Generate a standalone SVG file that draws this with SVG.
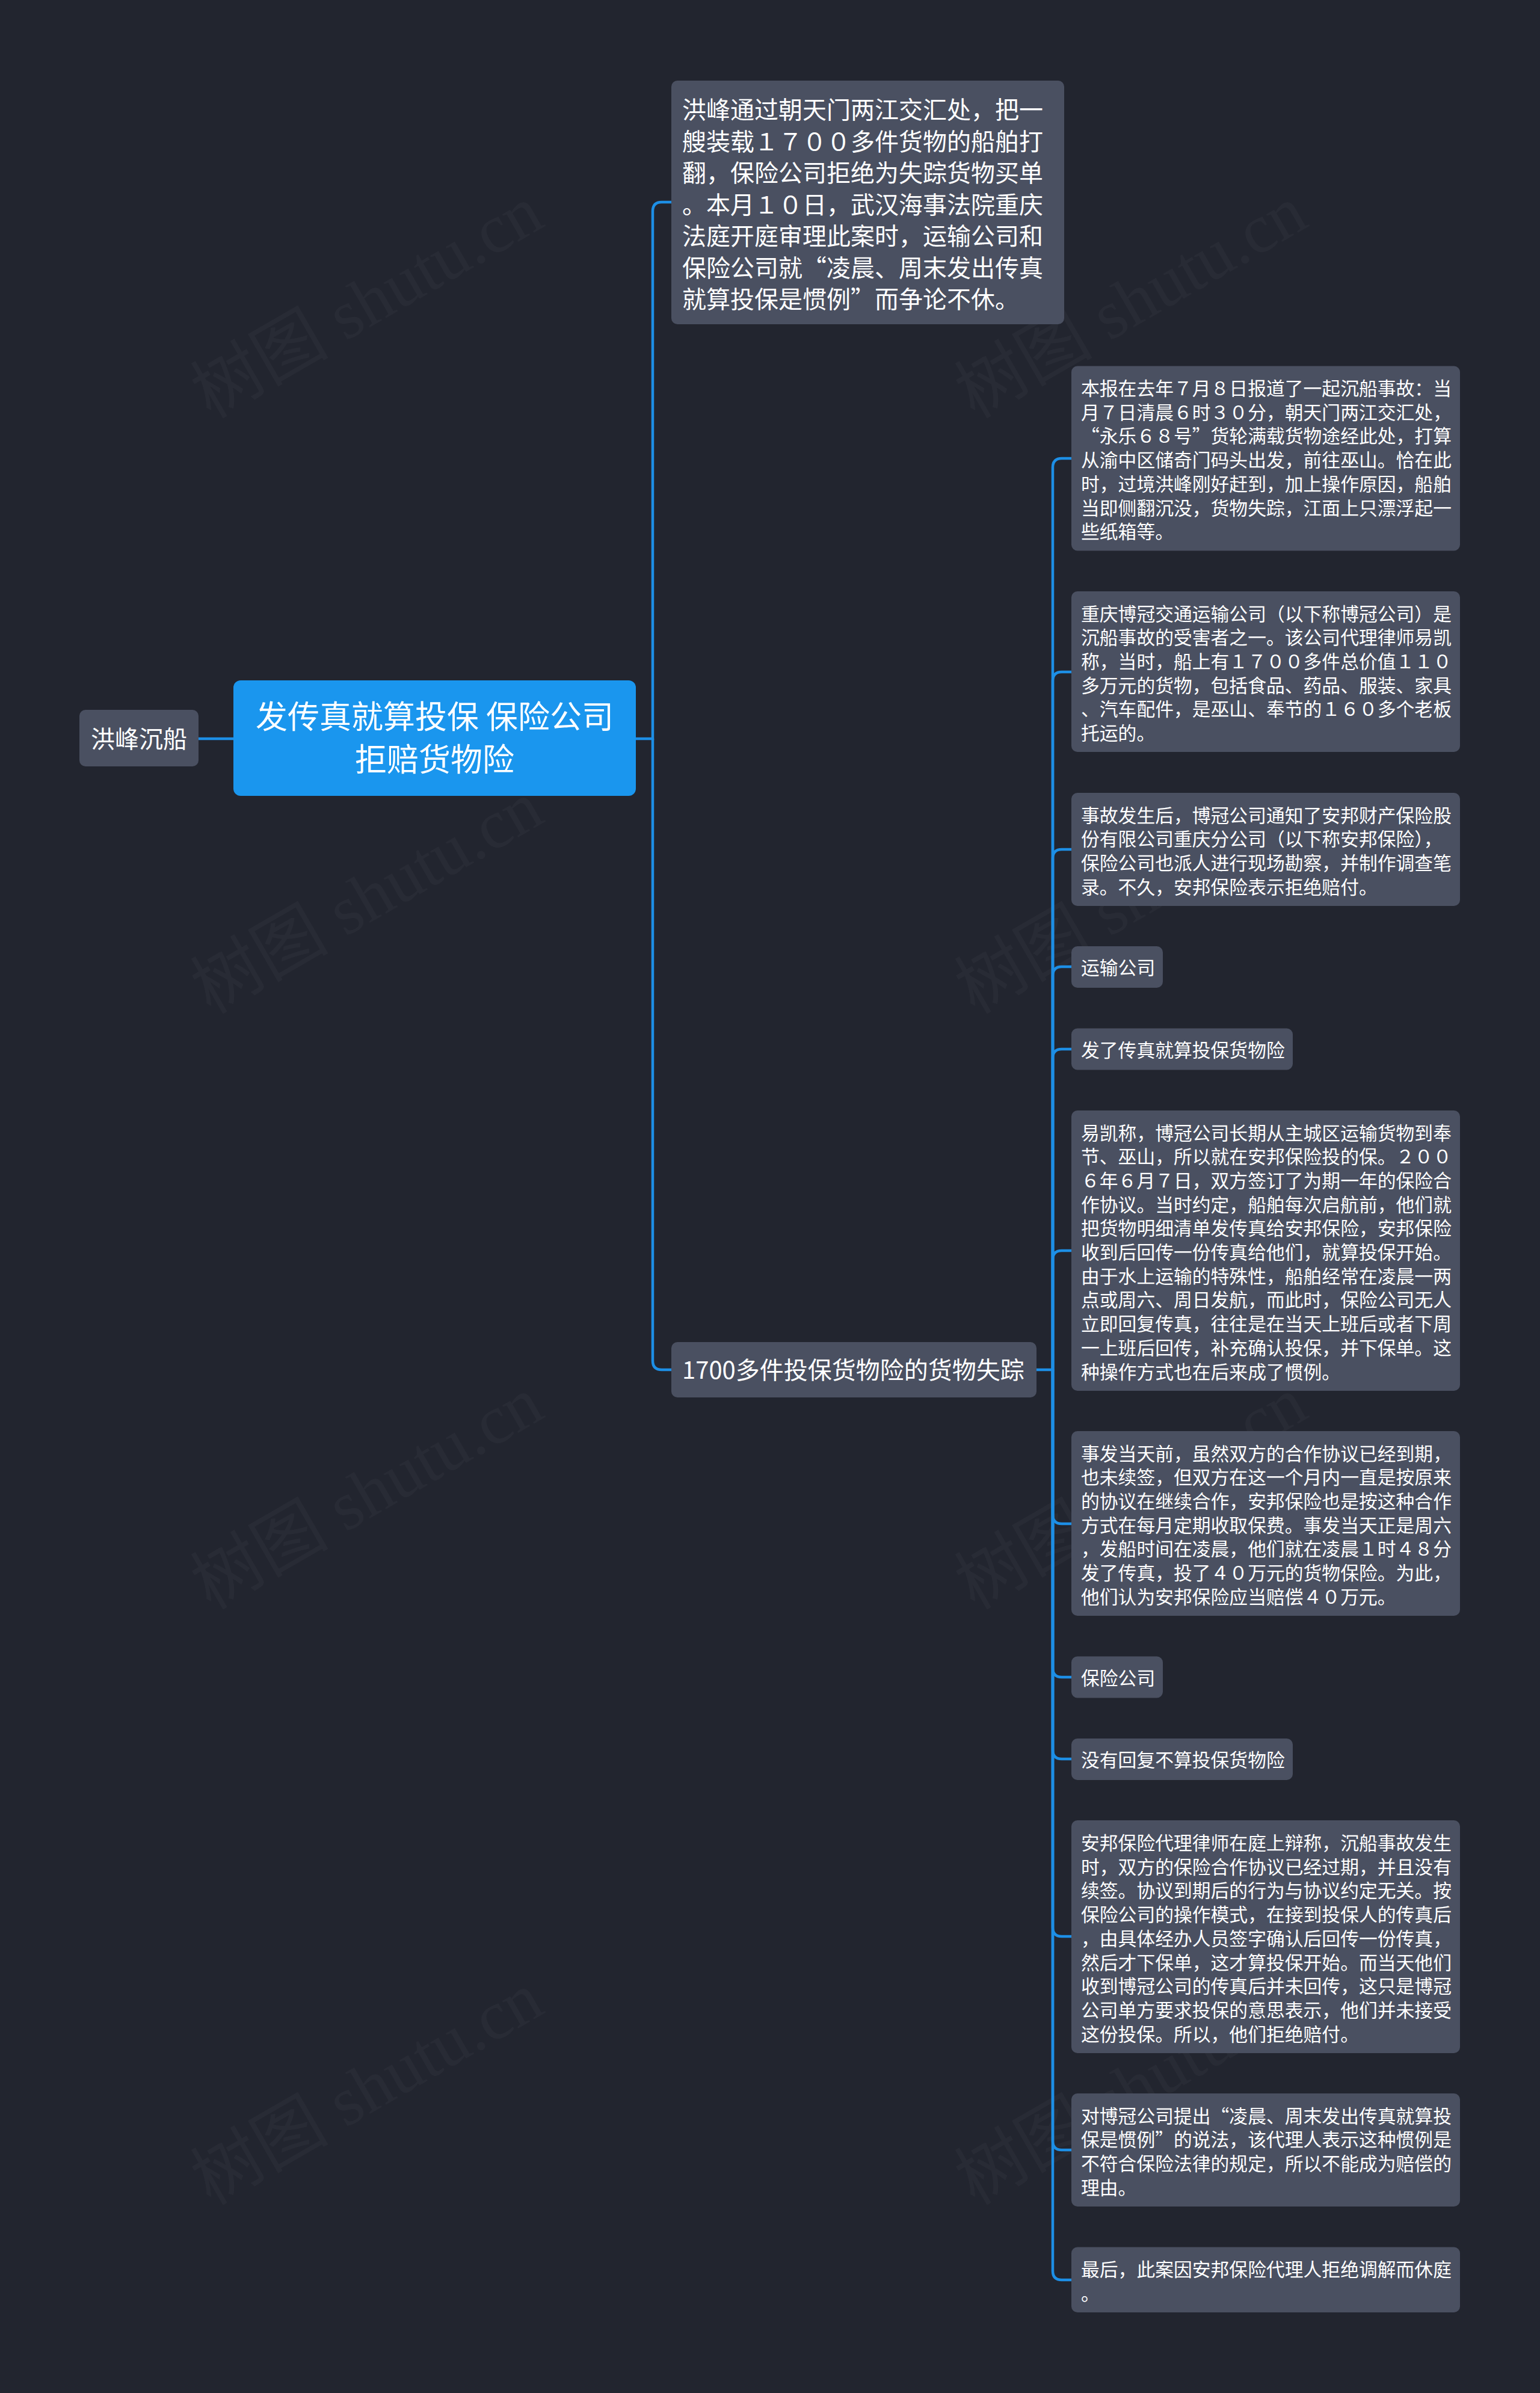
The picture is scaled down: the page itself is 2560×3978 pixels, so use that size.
<svg xmlns="http://www.w3.org/2000/svg" width="2560" height="3978" viewBox="0 0 2560 3978">
<style>
.bg{fill:#22252f}
.box{fill:#4a5061}
.main{fill:#1a96ee}
.t{fill:#ffffff;font-family:"Noto Sans CJK SC","Noto Sans",sans-serif}
.s{font-size:30.8px}
.m{font-size:40px}
.c{font-size:53px}
.wm{fill:#ffffff;fill-opacity:0.03;font-family:"Liberation Serif","Noto Sans CJK SC",serif;font-size:115px}
.ln{fill:none;stroke:#1d8fe6;stroke-width:4.5;stroke-linecap:round}
</style>
<rect class="bg" x="0" y="0" width="2560" height="3978"/>
<g id="watermarks">
<text class="wm" transform="translate(350,697) rotate(-30)">树图 shutu.cn</text>
<text class="wm" transform="translate(1620,697) rotate(-30)">树图 shutu.cn</text>
<text class="wm" transform="translate(350,1687) rotate(-30)">树图 shutu.cn</text>
<text class="wm" transform="translate(1620,1687) rotate(-30)">树图 shutu.cn</text>
<text class="wm" transform="translate(350,2677) rotate(-30)">树图 shutu.cn</text>
<text class="wm" transform="translate(1620,2677) rotate(-30)">树图 shutu.cn</text>
<text class="wm" transform="translate(350,3667) rotate(-30)">树图 shutu.cn</text>
<text class="wm" transform="translate(1620,3667) rotate(-30)">树图 shutu.cn</text>
</g>
<g id="connectors">
<path class="ln" d="M330 1228 H388"/>
<path class="ln" d="M1057 1228 H1085 V351 Q1085 336 1100 336 H1116"/>
<path class="ln" d="M1085 1228 V2262 Q1085 2277 1100 2277 H1116"/>
<path class="ln" d="M1723 2277 H1750 V777 Q1750 762 1765 762 H1781"/>
<path class="ln" d="M1750 2277 V1132 Q1750 1117 1765 1117 H1781"/>
<path class="ln" d="M1750 2277 V1427 Q1750 1412 1765 1412 H1781"/>
<path class="ln" d="M1750 2277 V1622 Q1750 1607 1765 1607 H1781"/>
<path class="ln" d="M1750 2277 V1759 Q1750 1744 1765 1744 H1781"/>
<path class="ln" d="M1750 2277 V2094 Q1750 2079 1765 2079 H1781"/>
<path class="ln" d="M1750 2277 V2518 Q1750 2533 1765 2533 H1781"/>
<path class="ln" d="M1750 2277 V2773 Q1750 2788 1765 2788 H1781"/>
<path class="ln" d="M1750 2277 V2909 Q1750 2924 1765 2924 H1781"/>
<path class="ln" d="M1750 2277 V3204 Q1750 3219 1765 3219 H1781"/>
<path class="ln" d="M1750 2277 V3559 Q1750 3574 1765 3574 H1781"/>
<path class="ln" d="M1750 2277 V3775 Q1750 3790 1765 3790 H1781"/>
</g>
<g id="node-left">
<rect class="box" x="132" y="1180" width="198" height="94" rx="10"/>
<text class="t m" x="151" y="1243">洪峰沉船</text>
</g>
<g id="node-central">
<rect class="main" x="388" y="1131" width="669" height="192" rx="12"/>
<text class="t c" x="722.5" y="1211" text-anchor="middle">发传真就算投保 保险公司</text>
<text class="t c" x="722.5" y="1282" text-anchor="middle">拒赔货物险</text>
</g>
<g id="node-top">
<rect class="box" x="1116" y="134" width="653" height="405" rx="10"/>
<text class="t m" x="1134"><tspan x="1134" y="197">洪峰通过朝天门两江交汇处，把一</tspan><tspan x="1134" dy="52.5">艘装载１７００多件货物的船舶打</tspan><tspan x="1134" dy="52.5">翻，保险公司拒绝为失踪货物买单</tspan><tspan x="1134" dy="52.5">。本月１０日，武汉海事法院重庆</tspan><tspan x="1134" dy="52.5">法庭开庭审理此案时，运输公司和</tspan><tspan x="1134" dy="52.5">保险公司就“凌晨、周末发出传真</tspan><tspan x="1134" dy="52.5">就算投保是惯例”而争论不休。</tspan></text>
</g>
<g id="node-1700">
<rect class="box" x="1116" y="2231" width="607" height="92" rx="10"/>
<text class="t m" x="1134" y="2292">1700多件投保货物险的货物失踪</text>
</g>
<g id="leaf-1">
<rect class="box" x="1781" y="608.5" width="646" height="307" rx="10"/>
<text class="t s"><tspan x="1797" y="657">本报在去年７月８日报道了一起沉船事故：当</tspan><tspan x="1797" dy="39.7">月７日清晨６时３０分，朝天门两江交汇处，</tspan><tspan x="1797" dy="39.7">“永乐６８号”货轮满载货物途经此处，打算</tspan><tspan x="1797" dy="39.7">从渝中区储奇门码头出发，前往巫山。恰在此</tspan><tspan x="1797" dy="39.7">时，过境洪峰刚好赶到，加上操作原因，船舶</tspan><tspan x="1797" dy="39.7">当即侧翻沉没，货物失踪，江面上只漂浮起一</tspan><tspan x="1797" dy="39.7">些纸箱等。</tspan></text>
</g>
<g id="leaf-2">
<rect class="box" x="1781" y="983" width="646" height="267" rx="10"/>
<text class="t s"><tspan x="1797" y="1031.5">重庆博冠交通运输公司（以下称博冠公司）是</tspan><tspan x="1797" dy="39.7">沉船事故的受害者之一。该公司代理律师易凯</tspan><tspan x="1797" dy="39.7">称，当时，船上有１７００多件总价值１１０</tspan><tspan x="1797" dy="39.7">多万元的货物，包括食品、药品、服装、家具</tspan><tspan x="1797" dy="39.7">、汽车配件，是巫山、奉节的１６０多个老板</tspan><tspan x="1797" dy="39.7">托运的。</tspan></text>
</g>
<g id="leaf-3">
<rect class="box" x="1781" y="1318" width="646" height="188" rx="10"/>
<text class="t s"><tspan x="1797" y="1366.5">事故发生后，博冠公司通知了安邦财产保险股</tspan><tspan x="1797" dy="39.7">份有限公司重庆分公司（以下称安邦保险），</tspan><tspan x="1797" dy="39.7">保险公司也派人进行现场勘察，并制作调查笔</tspan><tspan x="1797" dy="39.7">录。不久，安邦保险表示拒绝赔付。</tspan></text>
</g>
<g id="leaf-4">
<rect class="box" x="1781" y="1573" width="152" height="69" rx="10"/>
<text class="t s" x="1797" y="1620">运输公司</text>
</g>
<g id="leaf-5">
<rect class="box" x="1781" y="1709.5" width="368" height="69" rx="10"/>
<text class="t s" x="1797" y="1756.5">发了传真就算投保货物险</text>
</g>
<g id="leaf-6">
<rect class="box" x="1781" y="1846" width="646" height="466" rx="10"/>
<text class="t s"><tspan x="1797" y="1894.5">易凯称，博冠公司长期从主城区运输货物到奉</tspan><tspan x="1797" dy="39.7">节、巫山，所以就在安邦保险投的保。２００</tspan><tspan x="1797" dy="39.7">６年６月７日，双方签订了为期一年的保险合</tspan><tspan x="1797" dy="39.7">作协议。当时约定，船舶每次启航前，他们就</tspan><tspan x="1797" dy="39.7">把货物明细清单发传真给安邦保险，安邦保险</tspan><tspan x="1797" dy="39.7">收到后回传一份传真给他们，就算投保开始。</tspan><tspan x="1797" dy="39.7">由于水上运输的特殊性，船舶经常在凌晨一两</tspan><tspan x="1797" dy="39.7">点或周六、周日发航，而此时，保险公司无人</tspan><tspan x="1797" dy="39.7">立即回复传真，往往是在当天上班后或者下周</tspan><tspan x="1797" dy="39.7">一上班后回传，补充确认投保，并下保单。这</tspan><tspan x="1797" dy="39.7">种操作方式也在后来成了惯例。</tspan></text>
</g>
<g id="leaf-7">
<rect class="box" x="1781" y="2379" width="646" height="307" rx="10"/>
<text class="t s"><tspan x="1797" y="2427.5">事发当天前，虽然双方的合作协议已经到期，</tspan><tspan x="1797" dy="39.7">也未续签，但双方在这一个月内一直是按原来</tspan><tspan x="1797" dy="39.7">的协议在继续合作，安邦保险也是按这种合作</tspan><tspan x="1797" dy="39.7">方式在每月定期收取保费。事发当天正是周六</tspan><tspan x="1797" dy="39.7">，发船时间在凌晨，他们就在凌晨１时４８分</tspan><tspan x="1797" dy="39.7">发了传真，投了４０万元的货物保险。为此，</tspan><tspan x="1797" dy="39.7">他们认为安邦保险应当赔偿４０万元。</tspan></text>
</g>
<g id="leaf-8">
<rect class="box" x="1781" y="2753.5" width="152" height="69" rx="10"/>
<text class="t s" x="1797" y="2800.5">保险公司</text>
</g>
<g id="leaf-9">
<rect class="box" x="1781" y="2890" width="368" height="69" rx="10"/>
<text class="t s" x="1797" y="2937">没有回复不算投保货物险</text>
</g>
<g id="leaf-10">
<rect class="box" x="1781" y="3026" width="646" height="387" rx="10"/>
<text class="t s"><tspan x="1797" y="3075">安邦保险代理律师在庭上辩称，沉船事故发生</tspan><tspan x="1797" dy="39.7">时，双方的保险合作协议已经过期，并且没有</tspan><tspan x="1797" dy="39.7">续签。协议到期后的行为与协议约定无关。按</tspan><tspan x="1797" dy="39.7">保险公司的操作模式，在接到投保人的传真后</tspan><tspan x="1797" dy="39.7">，由具体经办人员签字确认后回传一份传真，</tspan><tspan x="1797" dy="39.7">然后才下保单，这才算投保开始。而当天他们</tspan><tspan x="1797" dy="39.7">收到博冠公司的传真后并未回传，这只是博冠</tspan><tspan x="1797" dy="39.7">公司单方要求投保的意思表示，他们并未接受</tspan><tspan x="1797" dy="39.7">这份投保。所以，他们拒绝赔付。</tspan></text>
</g>
<g id="leaf-11">
<rect class="box" x="1781" y="3480" width="646" height="188" rx="10"/>
<text class="t s"><tspan x="1797" y="3528.5">对博冠公司提出“凌晨、周末发出传真就算投</tspan><tspan x="1797" dy="39.7">保是惯例”的说法，该代理人表示这种惯例是</tspan><tspan x="1797" dy="39.7">不符合保险法律的规定，所以不能成为赔偿的</tspan><tspan x="1797" dy="39.7">理由。</tspan></text>
</g>
<g id="leaf-12">
<rect class="box" x="1781" y="3735.5" width="646" height="108.5" rx="10"/>
<text class="t s"><tspan x="1797" y="3784">最后，此案因安邦保险代理人拒绝调解而休庭</tspan><tspan x="1797" dy="39.7">。</tspan></text>
</g>
</svg>
